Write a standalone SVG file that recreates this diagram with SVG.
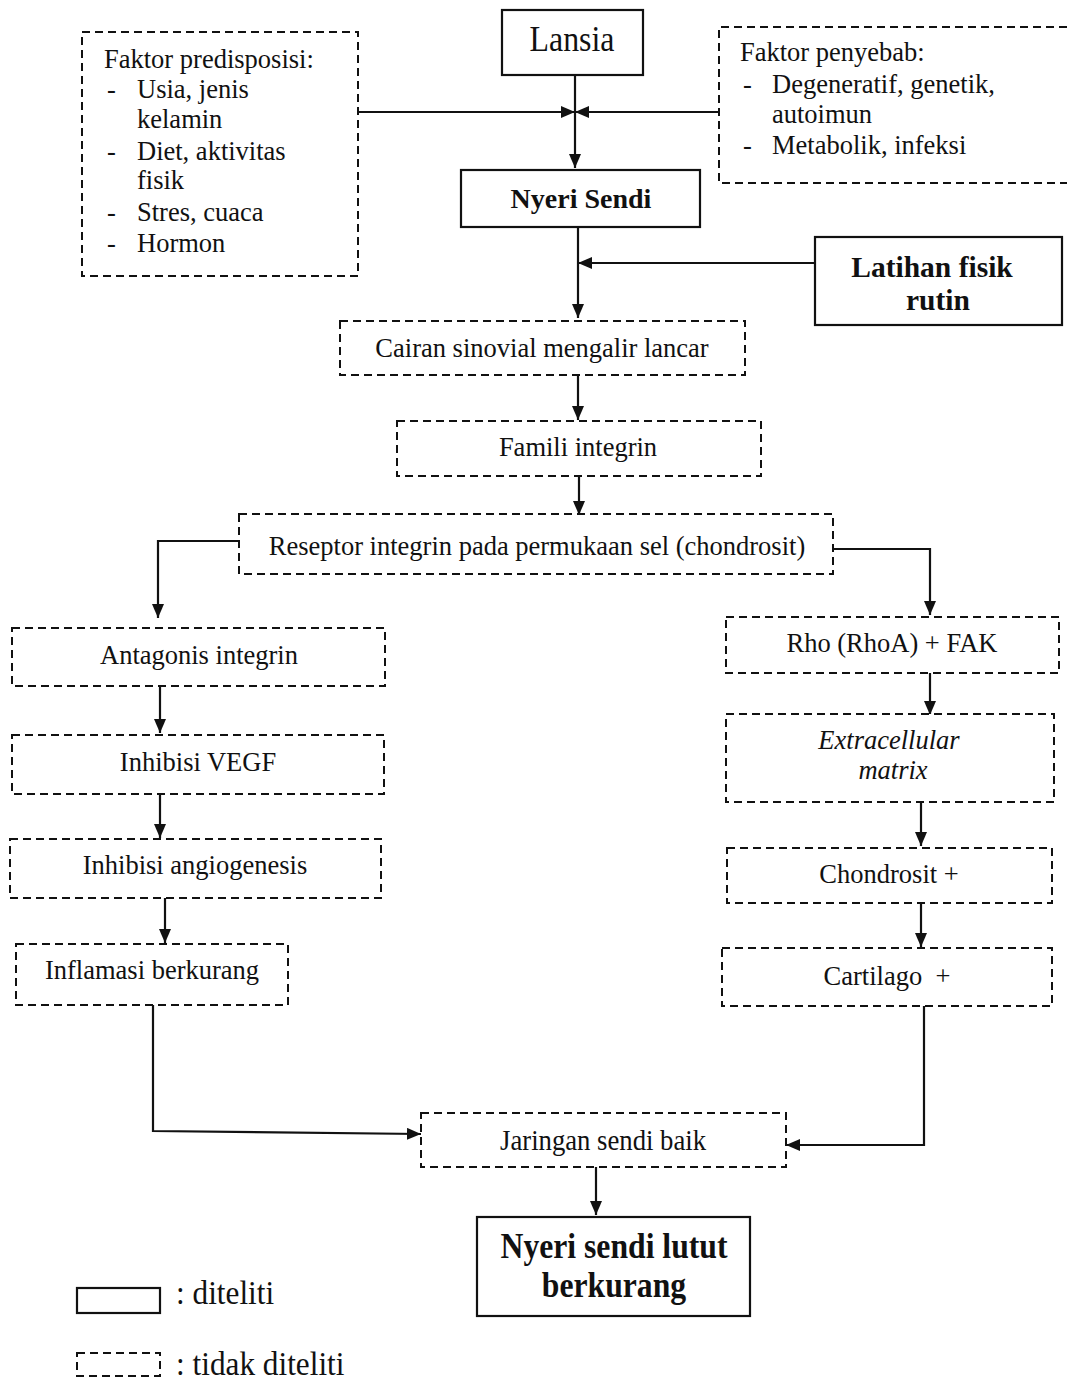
<svg xmlns="http://www.w3.org/2000/svg" width="1067" height="1381" viewBox="0 0 1067 1381">
<style>
text{font-family:"Liberation Serif","Times New Roman",serif;fill:#111;font-size:26.5px}
.c{text-anchor:middle}
.b{font-weight:bold}
.s{fill:#fff;stroke:#111;stroke-width:2.2}
.d{fill:#fff;stroke:#111;stroke-width:2;stroke-dasharray:8 5}
.l{fill:none;stroke:#111;stroke-width:2.2}
</style>
<defs>
<marker id="a" viewBox="0 0 14 12" refX="14" refY="6" markerWidth="14" markerHeight="12" markerUnits="userSpaceOnUse" orient="auto">
<path d="M0,0 L14,6 L0,12 Z" fill="#111"/>
</marker>
</defs>
<rect width="1067" height="1381" fill="#fff"/>
<g id="connectors">
<path class="l" d="M358,112 H575" marker-end="url(#a)"/>
<path class="l" d="M719,112 H575" marker-end="url(#a)"/>
<path class="l" d="M575,75 V168" marker-end="url(#a)"/>
<path class="l" d="M815,263 H578" marker-end="url(#a)"/>
<path class="l" d="M578,227 V318" marker-end="url(#a)"/>
<path class="l" d="M578,375 V420" marker-end="url(#a)"/>
<path class="l" d="M579,476 V515" marker-end="url(#a)"/>
<path class="l" d="M239,541 H158 V618" marker-end="url(#a)"/>
<path class="l" d="M833,549 H930 V615" marker-end="url(#a)"/>
<path class="l" d="M160,686 V733" marker-end="url(#a)"/>
<path class="l" d="M160,794 V838" marker-end="url(#a)"/>
<path class="l" d="M165,898 V943" marker-end="url(#a)"/>
<path class="l" d="M930,673 V715" marker-end="url(#a)"/>
<path class="l" d="M921,802 V846" marker-end="url(#a)"/>
<path class="l" d="M921,903 V947" marker-end="url(#a)"/>
<path class="l" d="M153,1005 V1131 L421,1134" marker-end="url(#a)"/>
<path class="l" d="M924,1006 V1145 H786" marker-end="url(#a)"/>
<path class="l" d="M596,1167 V1215" marker-end="url(#a)"/>
</g>
<g id="lansia"><rect class="s" x="502" y="10" width="141" height="65"/><text class="c" transform="translate(572,51) scale(0.885,1)" style="font-size:36px">Lansia</text></g>
<g id="predisposisi"><rect class="d" x="82" y="32" width="276" height="244"/>
<text x="104" y="68">Faktor predisposisi:</text>
<text x="107" y="98">-</text><text x="137" y="98">Usia, jenis</text>
<text x="137" y="128">kelamin</text>
<text x="107" y="160">-</text><text x="137" y="160">Diet, aktivitas</text>
<text x="137" y="189">fisik</text>
<text x="107" y="221">-</text><text x="137" y="221">Stres, cuaca</text>
<text x="107" y="252">-</text><text x="137" y="252">Hormon</text>
</g>
<g id="penyebab"><path class="d" d="M1067,27 H719 V183 H1067" fill="none"/>
<text x="740" y="61">Faktor penyebab:</text>
<text x="743" y="93">-</text><text x="772" y="93">Degeneratif, genetik,</text>
<text x="772" y="123">autoimun</text>
<text x="743" y="154">-</text><text x="772" y="154">Metabolik, infeksi</text>
</g>
<g id="nyeri-sendi"><rect class="s" x="461" y="170" width="239" height="57"/><text class="c b" x="581" y="208" style="font-size:28px">Nyeri Sendi</text></g>
<g id="latihan"><rect class="s" x="815" y="237" width="247" height="88"/><text class="c b" x="932" y="277" style="font-size:29.5px">Latihan fisik</text><text class="c b" x="938" y="310" style="font-size:29.5px">rutin</text></g>
<g id="cairan"><rect class="d" x="340" y="321" width="405" height="54"/><text class="c" x="542" y="357">Cairan sinovial mengalir lancar</text></g>
<g id="famili"><rect class="d" x="397" y="421" width="364" height="55"/><text class="c" x="578" y="456">Famili integrin</text></g>
<g id="reseptor"><rect class="d" x="239" y="514" width="594" height="60"/><text class="c" x="537" y="555">Reseptor integrin pada permukaan sel (chondrosit)</text></g>
<g id="antagonis"><rect class="d" x="12" y="628" width="373" height="58"/><text class="c" x="199" y="664">Antagonis integrin</text></g>
<g id="vegf"><rect class="d" x="12" y="735" width="372" height="59"/><text class="c" x="198" y="771">Inhibisi VEGF</text></g>
<g id="angiogenesis"><rect class="d" x="10" y="839" width="371" height="59"/><text class="c" x="195" y="874">Inhibisi angiogenesis</text></g>
<g id="inflamasi"><rect class="d" x="16" y="944" width="272" height="61"/><text class="c" x="152" y="979">Inflamasi berkurang</text></g>
<g id="rho"><rect class="d" x="726" y="617" width="333" height="56"/><text class="c" x="892" y="652">Rho (RhoA) + FAK</text></g>
<g id="ecm"><rect class="d" x="726" y="714" width="328" height="88"/><text class="c" x="889" y="749" font-style="italic">Extracellular</text><text class="c" x="893" y="779" font-style="italic">matrix</text></g>
<g id="chondrosit"><rect class="d" x="727" y="848" width="325" height="55"/><text class="c" x="889" y="883">Chondrosit +</text></g>
<g id="cartilago"><rect class="d" x="722" y="948" width="330" height="58"/><text class="c" x="887" y="985" xml:space="preserve">Cartilago  +</text></g>
<g id="jaringan"><rect class="d" x="421" y="1113" width="365" height="54"/><text class="c" transform="translate(603,1150) scale(0.89,1)" style="font-size:30px">Jaringan sendi baik</text></g>
<g id="nyeri-lutut"><rect class="s" x="477" y="1217" width="273" height="99"/><text class="c b" transform="translate(614,1258) scale(0.88,1)" style="font-size:36px">Nyeri sendi lutut</text><text class="c b" transform="translate(614,1297) scale(0.88,1)" style="font-size:36px">berkurang</text></g>
<g id="legend">
<rect class="s" x="77" y="1288" width="83" height="25"/>
<text transform="translate(176,1304) scale(0.92,1)" style="font-size:34px">: diteliti</text>
<rect class="d" x="77" y="1353" width="83" height="23" stroke-dasharray="5 3"/>
<text transform="translate(176,1375) scale(0.92,1)" style="font-size:34px">: tidak diteliti</text>
</g>
</svg>
